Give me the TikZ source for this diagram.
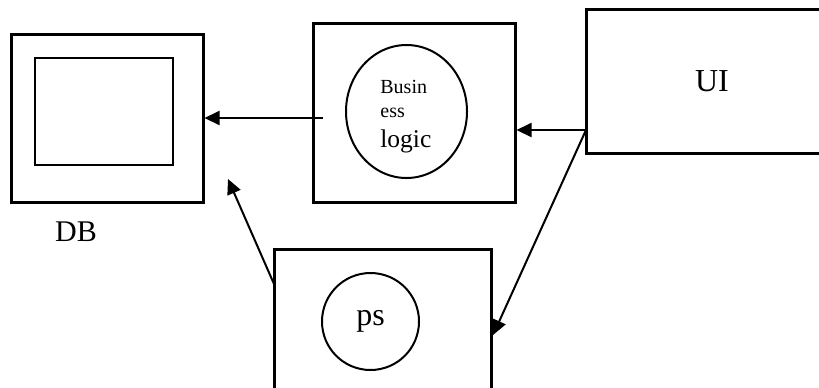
\documentclass[tikz,border=0pt]{standalone}
\usepackage{fontspec}
\setmainfont{Liberation Serif}
\usetikzlibrary{arrows.meta, positioning, shapes.geometric}

\begin{document}
\begin{tikzpicture}[x=0.5pt, y=-0.5pt,
  box/.style={draw, line width=1.5pt, inner sep=0pt},
  blob/.style={draw, ellipse, line width=1pt, inner sep=0pt},
  link/.style={line width=1pt, -{Triangle[length=7.5pt,width=7pt]}}]
  \useasboundingbox (0,0) rectangle (819,387);
  \clip (0,0) rectangle (819,387);

  % Boxes
  \node[box, minimum width=96pt, minimum height=84pt] (db) at (107,118) {};
  \node[draw, line width=1.1pt, inner sep=0pt, minimum width=69pt, minimum height=53.5pt] (dbinner) at (104,111.5) {};
  \node[box, minimum width=101pt, minimum height=89.5pt] (bl) at (414,112.5) {};
  \node[box, minimum width=126pt, minimum height=72pt, font=\fontsize{16}{18}\selectfont] (ui) at (712,81) {UI};
  \node[box, minimum width=108.5pt, minimum height=80pt] (ps) at (382.5,329) {};

  % Circles
  \node[blob, minimum width=60.5pt, minimum height=66.5pt] (logic) at (406.5,111.5) {};
  \node[blob, minimum width=48.5pt, minimum height=48.5pt, font=\fontsize{16}{18}\selectfont] (pscirc) at (370.5,321.5) {ps};

  % Labels
  \node[font=\fontsize{15}{17}\selectfont] (dblabel) at (76,232) {DB};
  \node[anchor=base west, inner sep=0pt, font=\fontsize{10}{12}\selectfont] (busin) at (380,93) {Busin};
  \node[anchor=base west, inner sep=0pt, font=\fontsize{10}{12}\selectfont] (ess) at (380,117) {ess};
  \node[anchor=base west, inner sep=0pt, font=\fontsize{12.75}{14}\selectfont] (logictext) at (380,147) {logic};

  % Connector ends
  \coordinate (bl-out) at (323,118);
  \coordinate (ui-port) at (586,130);
  \coordinate (ps-in) at (493,335);
  \coordinate (ps-out) at (274,284);
  \coordinate (db-in) at (228,179);

  % Arrows
  \draw[link] (bl-out) -- (db.east);
  \draw[link] (ui-port) -- (ui-port -| bl.east);
  \draw[link] (ui-port) -- (ps-in);
  \draw[link] (ps-out) -- (db-in);
\end{tikzpicture}
\end{document}
